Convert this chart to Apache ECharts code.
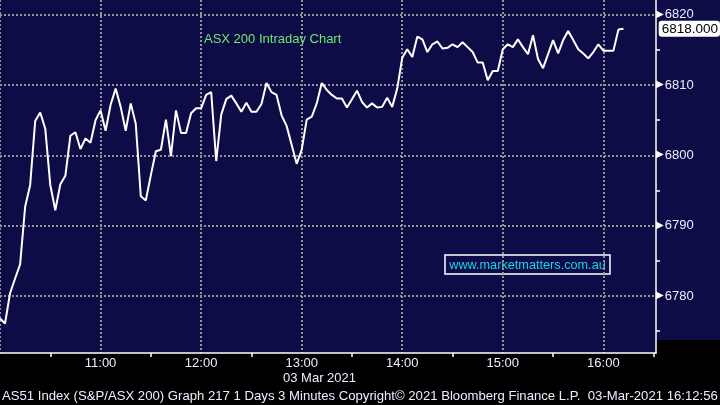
<!DOCTYPE html>
<html>
<head>
<meta charset="utf-8">
<script src="https://cdn.jsdelivr.net/npm/echarts@6/dist/echarts.min.js"></script>
<style>
html,body{margin:0;padding:0;background:#000;}
#chart{width:720px;height:405px;}
</style>
</head>
<body>
<div id="chart"></div>
<script>
// ---- data ----
const sessionStart = 10;      // 10:00
const stepMinutes = 3;        // 3-minute bars
const prices = [
  6776.8, 6776.1, 6780.4, 6782.5, 6784.5, 6792.7, 6795.8, 6804.9, 6806.1, 6803.8,
  6795.8, 6792.2, 6795.9, 6797.1, 6802.8, 6803.3, 6800.9, 6802.4, 6801.8, 6805.0,
  6806.4, 6803.5, 6807.2, 6809.5, 6806.9, 6803.5, 6807.4, 6804.5, 6794.2, 6793.6,
  6797.2, 6800.6, 6800.8, 6805.1, 6799.9, 6806.4, 6803.2, 6803.2, 6806.0, 6806.7,
  6806.7, 6808.6, 6809.0, 6799.2, 6805.8, 6808.0, 6808.5, 6807.4, 6806.2, 6807.5,
  6806.2, 6806.2, 6807.3, 6810.3, 6809.0, 6808.6, 6805.7, 6804.2, 6801.5, 6798.8,
  6800.8, 6805.1, 6805.5, 6807.4, 6810.3, 6809.3, 6808.6, 6808.1, 6808.1, 6806.8,
  6808.0, 6809.2, 6807.6, 6806.8, 6807.4, 6806.8, 6806.9, 6808.2, 6806.9, 6809.5,
  6813.9, 6815.1, 6814.0, 6816.9, 6816.5, 6814.7, 6815.8, 6816.2, 6815.2, 6815.3,
  6815.8, 6815.4, 6816.1, 6815.4, 6814.7, 6813.2, 6813.2, 6810.7, 6812.0, 6812.0,
  6815.1, 6815.8, 6815.4, 6816.5, 6815.4, 6814.4, 6817.1, 6813.7, 6812.4, 6814.4,
  6816.4, 6814.5, 6816.4, 6817.7, 6816.4, 6815.1, 6814.5, 6813.8, 6814.7, 6815.8,
  6814.9, 6814.9, 6814.9, 6817.9, 6818.0
];
const lastPrice = 6818.000;
const yMajorTicks = [6780, 6790, 6800, 6810, 6820];
const yMinorTicks = [6775, 6785, 6795, 6805, 6815];
const xHalfHourTicks = [30, 90, 150, 210, 270, 330, 390];
const titleText = 'ASX 200 Intraday Chart';
const dateText = '03 Mar 2021';
const watermarkText = 'www.marketmatters.com.au';
const footerText = 'AS51 Index (S&P/ASX 200) Graph 217 1 Days 3 Minutes Copyright\u00A9 2021 Bloomberg Finance L.P.  03-Mar-2021 16:12:56';

// ---- build ----
const seriesData = prices.map((p, i) => [i * stepMinutes, p]);
const X_MIN = 0, X_MAX = 391.4, Y_MIN = 6771.9, Y_MAX = 6822.1;
const FONT = 'Liberation Sans';
const navy = '#0e0c47';
const gridLine = {color: '#939393', width: 2, type: [2, 2]};

const chart = echarts.init(document.getElementById('chart'), null, {renderer: 'canvas'});
chart.setOption({
  backgroundColor: '#000',
  animation: false,
  textStyle: {fontFamily: FONT},
  grid: {left: 0, right: 64, top: 0, bottom: 52, show: true, backgroundColor: navy, borderWidth: 0,
         containLabel: false, outerBoundsMode: 'none'},
  xAxis: [{
    type: 'value', min: X_MIN, max: X_MAX, interval: 60,
    axisLine: {show: true, onZero: false, lineStyle: {color: '#fff', width: 1.5}},
    axisTick: {show: false},
    axisLabel: {
      color: '#eef', fontSize: 13, fontFamily: FONT, margin: 4,
      formatter: v => (v > 0 && v % 60 === 0) ? (sessionStart + v / 60) + ':00' : ''
    },
    splitLine: {show: true, showMaxLine: false, lineStyle: gridLine}
  }, {
    type: 'value', min: X_MIN, max: X_MAX, position: 'bottom',
    axisLine: {show: false, onZero: false},
    axisLabel: {show: false},
    splitLine: {show: false},
    axisTick: {show: true, customValues: xHalfHourTicks, length: 4, lineStyle: {color: '#fff', width: 1.5}}
  }],
  yAxis: [{
    type: 'value', min: Y_MIN, max: Y_MAX, position: 'right',
    axisLine: {show: true, onZero: false, lineStyle: {color: '#fff', width: 1.5}},
    axisTick: {show: false},
    axisLabel: {
      margin: 0, fontFamily: FONT,
      formatter: v => yMajorTicks.indexOf(Math.round(v * 10) / 10) >= 0 ? '{t|\u25B6}{v|' + v + '}' : '',
      rich: {
        t: {color: '#fff', fontSize: 10, fontFamily: 'DejaVu Sans', padding: [0, 1, 1, 0]},
        v: {color: '#eef', fontSize: 13, fontFamily: FONT}
      }
    },
    splitLine: {show: true, showMinLine: false, showMaxLine: false, lineStyle: gridLine},
    axisPointer: {
      show: true, value: lastPrice, status: 'show', type: 'line', triggerTooltip: false,
      lineStyle: {opacity: 0, width: 0},
      label: {
        show: true, backgroundColor: '#fff', color: '#000', fontSize: 13.5, fontFamily: FONT,
        padding: [1, 2, 1, 3], margin: 7,
        formatter: () => lastPrice.toFixed(3)
      }
    }
  }, {
    type: 'value', min: Y_MIN, max: Y_MAX, position: 'right',
    axisLine: {show: false, onZero: false},
    axisLabel: {show: false},
    splitLine: {show: false},
    axisTick: {show: true, customValues: yMinorTicks, length: 4, lineStyle: {color: '#fff', width: 1.5}}
  }],
  series: [{
    type: 'line',
    xAxisIndex: 0, yAxisIndex: 0,
    data: seriesData,
    showSymbol: false,
    lineStyle: {color: '#fff', width: 2},
    z: 5
  }],
  graphic: [
    {type: 'rect', left: 656, top: 0, z: -1, shape: {width: 64, height: 340}, style: {fill: navy}, silent: true},
    {type: 'text', left: 204, top: 33, style: {text: titleText, fill: '#6fe86f', font: '13px "Liberation Sans"'}},
    {type: 'rect', shape: {x: 445, y: 255, width: 165, height: 19}, style: {fill: 'none', stroke: '#fff', lineWidth: 1.5}},
    {type: 'text', style: {x: 527.5, y: 265, text: watermarkText, fill: '#19d3e6', font: '12.7px "Liberation Sans"', align: 'center', verticalAlign: 'middle'}},
    {type: 'text', left: 283, top: 372, style: {text: dateText, fill: '#eef', font: '13px "Liberation Sans"'}},
    {type: 'text', left: 2, top: 390, style: {text: footerText, fill: '#eef', font: '13.15px "Liberation Sans"'}}
  ]
});
</script>
</body>
</html>
